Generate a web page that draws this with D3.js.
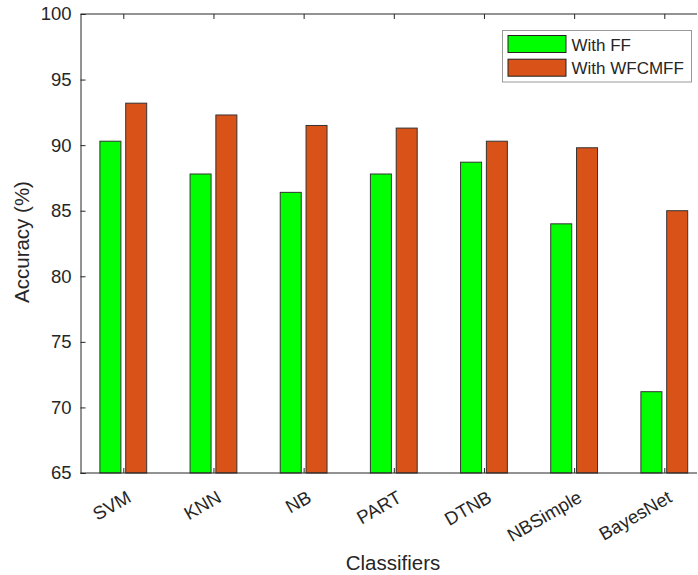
<!DOCTYPE html>
<html>
<head>
<meta charset="utf-8">
<script src="https://cdn.jsdelivr.net/npm/d3@7"></script>
<style>
  html, body { margin: 0; padding: 0; background: #fff; }
  text { font-family: "Liberation Sans", Arial, sans-serif; fill: #262626; }
</style>
</head>
<body>
<svg id="chart" width="698" height="575"></svg>
<script>
const categories = ["SVM", "KNN", "NB", "PART", "DTNB", "NBSimple", "BayesNet"];
const withFF = [90.3, 87.8, 86.4, 87.8, 88.7, 84.0, 71.2];
const withWFCMFF = [93.2, 92.3, 91.5, 91.3, 90.3, 89.8, 85.0];
const seriesNames = ["With FF", "With WFCMFF"];
const seriesColors = ["#00ff00", "#d95319"];
const yTicks = [65, 70, 75, 80, 85, 90, 95, 100];

(function () {
const svg = d3.select("#chart");
const pL = 80.5, pR = 697, pT = 14, pB = 473;
const FONT = "Liberation Sans, Arial, sans-serif";

const x = d3.scaleLinear().domain([1, 7]).range([123.3, 664.3]);
const y = d3.scaleLinear().domain([65, 100]).range([pB, pT]);
const barW = 21, off = 12.9;

const series = [withFF, withWFCMFF];
series.forEach((vals, si) => {
  svg.append("g").selectAll("rect").data(vals).join("rect")
    .attr("x", (d, i) => x(i + 1) + (si === 0 ? -off : off) - barW / 2)
    .attr("y", d => y(d))
    .attr("width", barW)
    .attr("height", d => y(65) - y(d))
    .attr("fill", seriesColors[si])
    .attr("stroke", "#333")
    .attr("stroke-width", 1);
});

// Box
svg.append("line").attr("x1", pL).attr("x2", pR).attr("y1", pT).attr("y2", pT)
  .attr("stroke", "#262626").attr("stroke-width", 1);
svg.append("line").attr("x1", pL).attr("x2", pR).attr("y1", pB).attr("y2", pB)
  .attr("stroke", "#262626").attr("stroke-width", 1);

// Y axis
const yAxis = d3.axisLeft(y).tickValues(yTicks).tickSize(-5).tickPadding(9);
const gy = svg.append("g").attr("transform", `translate(${pL},0)`).call(yAxis);
gy.select(".domain").attr("stroke", "#262626");
gy.selectAll(".tick line").attr("stroke", "#262626");
gy.selectAll(".tick text").attr("font-size", 18.5).attr("font-family", FONT).attr("fill", "#262626");

// X axis bottom
const idx = d3.range(1, 8);
const xAxis = d3.axisBottom(x).tickValues(idx).tickSize(-5).tickFormat(d => categories[d - 1]);
const gx = svg.append("g").attr("transform", `translate(0,${pB})`).call(xAxis);
gx.select(".domain").remove();
gx.selectAll(".tick line").attr("stroke", "#262626");
gx.selectAll(".tick text")
  .attr("font-size", 18.5).attr("font-family", FONT).attr("fill", "#262626")
  .attr("text-anchor", "end").attr("dy", null).attr("y", 0)
  .attr("transform", "translate(8.5,28) rotate(-30)");

// Top ticks
const xTop = d3.axisTop(x).tickValues(idx).tickSize(-5).tickFormat("");
const gt = svg.append("g").attr("transform", `translate(0,${pT})`).call(xTop);
gt.select(".domain").remove();
gt.selectAll(".tick line").attr("stroke", "#262626");

// Axis labels
svg.append("text").attr("x", 393).attr("y", 570).attr("text-anchor", "middle")
  .attr("font-size", 20.5).text("Classifiers");
svg.append("text").attr("transform", "translate(29,242) rotate(-90)").attr("text-anchor", "middle")
  .attr("font-size", 20.5).text("Accuracy (%)");

// Legend
const lg = svg.append("g");
lg.append("rect").attr("x", 502.5).attr("y", 30.5).attr("width", 189).attr("height", 51.5)
  .attr("fill", "#fff").attr("stroke", "#999").attr("stroke-width", 1);
seriesNames.forEach((name, i) => {
  lg.append("rect").attr("x", 508).attr("y", 35.5 + i * 23.7).attr("width", 58).attr("height", 17)
    .attr("fill", seriesColors[i]).attr("stroke", "#222");
  lg.append("text").attr("x", 571.5).attr("y", 50.5 + i * 23.7).attr("font-size", 17).attr("fill", "#000").text(name);
});
})();
</script>
</body>
</html>
